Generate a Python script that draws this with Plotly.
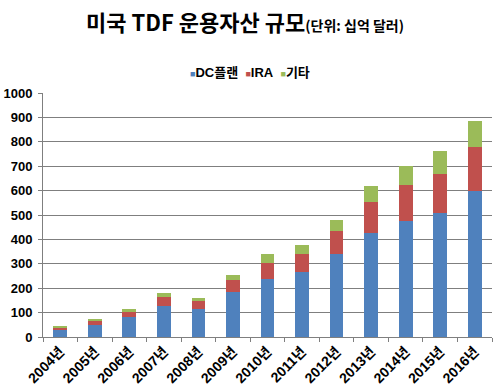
import plotly.graph_objects as go

years = ["2004년", "2005년", "2006년", "2007년", "2008년", "2009년", "2010년",
         "2011년", "2012년", "2013년", "2014년", "2015년", "2016년"]
dc_plan = [31, 49, 80, 128, 114, 183, 238, 265, 339, 426, 475, 510, 597]
ira = [8, 17, 25, 38, 35, 51, 67, 74, 95, 127, 148, 158, 180]
other = [5, 4, 8, 16, 11, 20, 35, 37, 46, 64, 78, 94, 107]

series_names = ["DC플랜", "IRA", "기타"]
colors = ["#4F81BD", "#C0504D", "#9BBB59"]

font_main = "Liberation Sans, Arial, Noto Sans CJK KR, sans-serif"

fig = go.Figure()
for name, vals, col in zip(series_names, [dc_plan, ira, other], colors):
    fig.add_trace(go.Bar(x=years, y=vals, name=name, marker_color=col,
                         marker_line_width=0, showlegend=False))

legend_text = "&nbsp;&nbsp;".join(
    f"<span style='color:{c};font-size:9px'>■</span><b>{n}</b>"
    for n, c in zip(series_names, colors))
fig.add_annotation(text=legend_text, xref="paper", yref="paper",
                   x=0.0, xanchor="left", xshift=145, y=1.086, yanchor="middle",
                   showarrow=False,
                   font=dict(family="Liberation Sans, Noto Sans CJK KR, sans-serif",
                             size=13, color="black"))

fig.update_layout(
    barmode="stack",
    bargap=0.6,
    width=500, height=390,
    margin=dict(l=43, r=8, t=93, b=53, autoexpand=False),
    paper_bgcolor="white", plot_bgcolor="white",
    font=dict(family=font_main, color="black"),
    title=dict(
        text="<b>미국 TDF 운용자산 규모</b><span style='font-size:14px'><b>(단위: 십억 달러)</b></span>",
        font=dict(family="Noto Sans CJK KR, sans-serif", size=22, color="black"),
        x=0.49, xanchor="center", xref="container",
        y=0.94, yanchor="middle", yref="container",
    ),
    showlegend=False,
)
fig.update_xaxes(
    type="category", tickson="boundaries", ticks="outside", ticklen=4,
    tickcolor="#7f7f7f", showline=True, linecolor="#7f7f7f", linewidth=1,
    showgrid=False, tickangle=-45, automargin=False,
    tickfont=dict(family=font_main, size=14, color="black"),
)
fig.update_yaxes(
    range=[0, 1000], dtick=100, ticks="outside", ticklen=4, tickcolor="#7f7f7f",
    showline=True, linecolor="#7f7f7f", linewidth=1, automargin=False,
    showgrid=True, gridcolor="#7f7f7f", gridwidth=1, zeroline=False,
    tickfont=dict(family=font_main, size=13, color="black"),
    ticklabelstandoff=3,
)
fig.update_xaxes(tickprefix="<b>", ticksuffix="</b>")
fig.update_yaxes(tickprefix="<b>", ticksuffix="</b>")

fig.write_html("out.html",
               config={"displayModeBar": False},
               post_script="document.body.style.margin='0px';document.body.style.overflow='hidden';")
